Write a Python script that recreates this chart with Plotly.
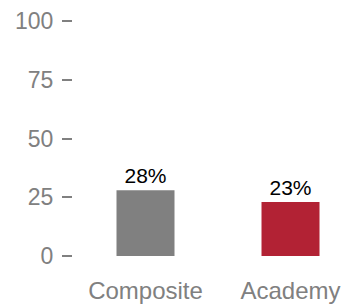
import plotly.graph_objects as go

categories = ["Composite", "Academy"]
values = [28, 23]
labels = ["28%", "23%"]
colors = ["#808080", "#B22234"]
yticks = [0, 25, 50, 75, 100]

fig = go.Figure(go.Bar(
    x=categories, y=values, text=labels, textposition="outside",
    marker=dict(color=colors, line=dict(width=0)), width=0.4,
    textfont=dict(color="black", size=21, family="Liberation Sans, Arial"),
    cliponaxis=False, hoverinfo="skip",
))
fig.update_layout(
    width=343, height=306,
    margin=dict(l=73, r=0, t=21, b=50, autoexpand=False),
    paper_bgcolor="white", plot_bgcolor="white",
    showlegend=False,
    font=dict(family="Liberation Sans, Arial", color="#808080"),
    xaxis=dict(range=[-0.5, 1.362], showline=False, showgrid=False, zeroline=False, automargin=False,
               ticks="", tickfont=dict(size=24, color="#808080"), ticklabelstandoff=18),
    yaxis=dict(range=[0, 100], tickvals=yticks, showline=False, showgrid=False, zeroline=False, automargin=False,
               ticks="outside", ticklen=10, tickwidth=2, tickcolor="#808080",
               tickfont=dict(size=23, color="#808080"), ticklabelstandoff=4),
)
fig.write_html(
    "out.html",
    config={"displayModeBar": False},
    post_script="document.body.style.margin='0';document.body.style.overflow='hidden';",
)
